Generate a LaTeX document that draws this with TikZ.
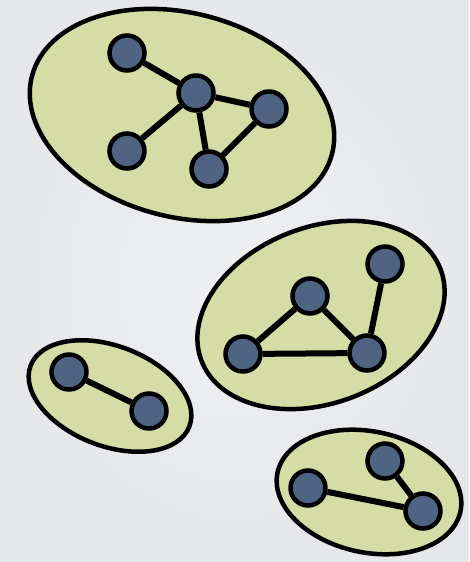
\documentclass[tikz,border=0pt]{standalone}
\definecolor{bgin}{HTML}{EFF0F2}
\definecolor{bgout}{HTML}{E5E7EB}
\definecolor{blobfill}{HTML}{D6DCA5}
\definecolor{vfill}{HTML}{4F6483}
\tikzset{
  blob/.style={draw=black, line width=4.5pt, fill=blobfill},
  vtx/.style={circle, draw=black, line width=4.5pt, fill=vfill, minimum size=35pt, inner sep=0pt},
  link/.style={draw=black, line width=6pt}
}
\begin{document}
\begin{tikzpicture}[x=1pt, y=-1pt]
\useasboundingbox (0,0) rectangle (469,562);
\shade[inner color=bgin, outer color=bgout] (0,0) rectangle (469,562);
% blobs
\draw[blob] (182,115) ellipse [x radius=155pt, y radius=102pt, rotate=-14.5];
\draw[blob] (321,315) ellipse [x radius=128pt, y radius=88pt, rotate=21];
\draw[blob] (110,396) ellipse [x radius=85pt, y radius=50pt, rotate=-21];
\draw[blob] (369,492) ellipse [x radius=93.5pt, y radius=60.5pt, rotate=-12];
% vertices group 1
\node[vtx] (a) at (127,53) {};
\node[vtx] (b) at (196,93) {};
\node[vtx] (c) at (269,109) {};
\node[vtx] (d) at (127,151) {};
\node[vtx] (e) at (209,169) {};
% group 2
\node[vtx] (f) at (243,354) {};
\node[vtx] (g) at (310,296) {};
\node[vtx] (h) at (367,353) {};
\node[vtx] (i) at (385,264) {};
% group 3
\node[vtx] (j) at (69,372) {};
\node[vtx] (k) at (149,411) {};
% group 4
\node[vtx] (l) at (308,488) {};
\node[vtx] (m) at (385,461) {};
\node[vtx] (n) at (423,511) {};
% edges
\draw[link] (a) -- (b);
\draw[link] (b) -- (c);
\draw[link] (b) -- (d);
\draw[link] (b) -- (e);
\draw[link] (c) -- (e);
\draw[link] (f) -- (g);
\draw[link] (g) -- (h);
\draw[link] (f) -- (h);
\draw[link] (h) -- (i);
\draw[link] (j) -- (k);
\draw[link] (l) -- (n);
\draw[link] (m) -- (n);
\end{tikzpicture}
\end{document}
